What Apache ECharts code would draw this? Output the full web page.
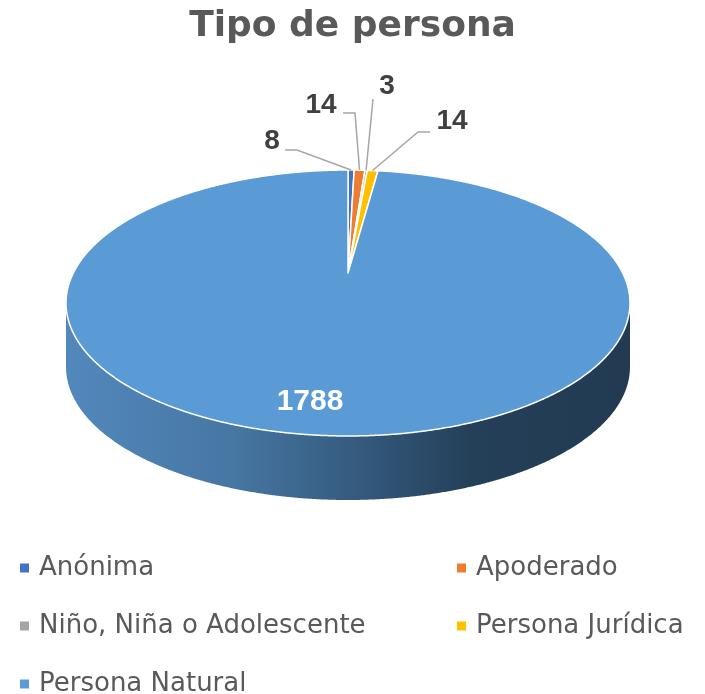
<!DOCTYPE html>
<html>
<head>
<meta charset="utf-8">
<script src="https://cdn.jsdelivr.net/npm/echarts@6/dist/echarts.min.js"></script>
<style>html,body{margin:0;padding:0;background:#fff}#c{width:705px;height:694px}</style>
</head>
<body>
<div id="c"></div>
<script>
// ---- data ----
const title = 'Tipo de persona';
const categories = ['Anónima', 'Apoderado', 'Niño, Niña o Adolescente', 'Persona Jurídica', 'Persona Natural'];
const values = [8, 14, 3, 14, 1788];

// ---- style ----
const colors = ['#4472C4', '#ED7D31', '#A5A5A5', '#FFC000', '#5B9BD5'];
// label layout: text centre and leader path (from label towards slice)
const labelLayout = [
  { pos: [272, 141], leader: [[285, 150], [297, 150]] },
  { pos: [321, 105], leader: [[343, 113], [355, 113]] },
  { pos: [387, 86], leader: [[373, 99]] },
  { pos: [452, 121], leader: [[430, 132], [418, 132]] },
  { pos: [310, 402], leader: null, inside: true }
];
// 3D pie geometry (perspective ellipse)
const CX = 348, CY = 273, SX = 274.7, SY = 126.2, K = 0.2257, DEPTH = 64;

const total = values.reduce((a, b) => a + b, 0);
function proj(t, dy) {
  const s = Math.sin(t), c = Math.cos(t), w = 1 + K * c;
  return [CX + SX * s / w, CY - SY * c / w + (dy || 0)];
}
function arc(a, b, dy) {
  const pts = [];
  const n = Math.max(2, Math.ceil((b - a) / 0.004));
  for (let j = 0; j <= n; j++) pts.push(proj(a + (b - a) * j / n, dy));
  return pts;
}
const visA = Math.acos(-K), visB = 2 * Math.PI - Math.acos(-K);

function makeRender(i) {
  return function (params, api) {
    const v = api.value(0);
    let before = 0;
    for (let j = 0; j < i; j++) before += values[j];
    const a = before / total * 2 * Math.PI;
    const b = a + v / total * 2 * Math.PI;
    const children = [];
    // side wall
    const sa = Math.max(a, visA), sb = Math.min(b, visB);
    if (sb > sa) {
      const top = arc(sa, sb, 0);
      const bot = arc(sa, sb, DEPTH).reverse();
      children.push({
        type: 'polygon', z2: 1,
        shape: { points: top.concat(bot) },
        style: {
          fill: {
            type: 'linear', global: true, x: 66, y: 0, x2: 630, y2: 0,
            colorStops: [
              { offset: 0, color: '#5388bd' },
              { offset: 0.3, color: '#4676a2' },
              { offset: 0.55, color: '#325678' },
              { offset: 0.72, color: '#243f58' },
              { offset: 1, color: '#223b52' }
            ]
          }
        }
      });
    }
    // top face
    children.push({
      type: 'polygon', z2: 10,
      shape: { points: [[CX, CY]].concat(arc(a, b, 0)) },
      style: { fill: colors[i], stroke: '#ffffff', lineWidth: 1.5, lineJoin: 'round' }
    });
    // label
    const L = labelLayout[i];
    if (L.leader) {
      const rim = proj((a + b) / 2, 0);
      children.push({
        type: 'polyline', z2: 19,
        shape: { points: L.leader.concat([rim]) },
        style: { stroke: '#a6a6a6', lineWidth: 1.5, fill: null }
      });
    }
    children.push({
      type: 'text', z2: 20,
      x: L.pos[0], y: L.pos[1],
      style: {
        text: String(v), align: 'center', verticalAlign: 'middle',
        fontFamily: 'Liberation Sans, Arial, sans-serif', fontWeight: 'bold',
        fontSize: L.inside ? 30 : 28,
        fill: L.inside ? '#ffffff' : '#404040'
      }
    });
    return { type: 'group', children: children };
  };
}

const series = categories.map((name, i) => ({
  type: 'custom',
  name: name,
  coordinateSystem: 'none',
  silent: true,
  itemStyle: { color: colors[i] },
  data: [[values[i]]],
  renderItem: makeRender(i)
}));

const chart = echarts.init(document.getElementById('c'), null, { renderer: 'canvas' });
chart.setOption({
  animation: false,
  backgroundColor: '#ffffff',
  title: {
    text: title, left: 'center', top: 4,
    textStyle: { fontFamily: '"DejaVu Sans"', fontWeight: 'bold', fontSize: 36, color: '#595959' }
  },
  legend: {
    data: categories,
    icon: 'rect',
    left: 20, top: 553, width: 685,
    padding: 0,
    itemWidth: 9, itemHeight: 9,
    itemGap: 28,
    selectedMode: false,
    formatter: function (name) {
      return (categories.indexOf(name) % 2 === 0 ? '{a|' : '{b|') + name + '}';
    },
    textStyle: {
      fontFamily: '"DejaVu Sans"', fontSize: 26, color: '#595959', lineHeight: 30,
      rich: {
        a: { width: 390, padding: [0, 0, 0, 5], fontFamily: '"DejaVu Sans"', fontSize: 26, color: '#595959', lineHeight: 30 },
        b: { width: 215, padding: [0, 0, 0, 5], fontFamily: '"DejaVu Sans"', fontSize: 26, color: '#595959', lineHeight: 30 }
      }
    }
  },
  series: series
});
</script>
</body>
</html>
